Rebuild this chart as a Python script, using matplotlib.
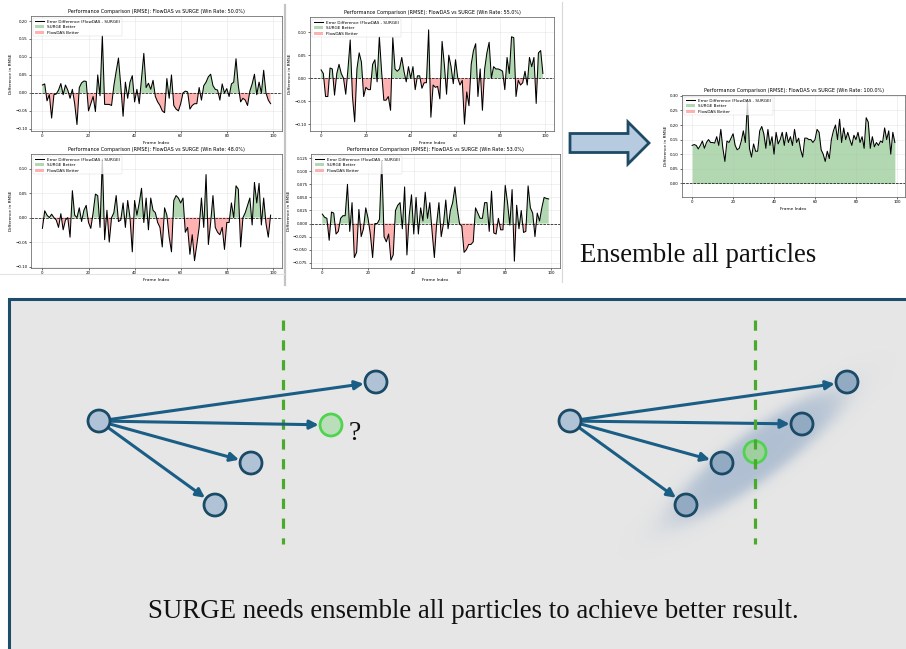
import numpy as np
import matplotlib
matplotlib.use("Agg")
import matplotlib.pyplot as plt
from matplotlib.patches import Circle, Rectangle, FancyArrow, FancyArrowPatch

# ---------------- data ----------------
frames = np.arange(100)

diff_p1 = [0.022, 0.025, -0.022, -0.005, -0.07, -0.005, -0.003, 0.008, 0.026, -0.005,
           0.022, 0.008, -0.015, 0.01, -0.03, -0.088, 0.015, 0.028, 0.033, 0.032,
           -0.05, -0.03, -0.01, -0.052, 0.05, -0.008, 0.16, -0.032, -0.032, -0.032,
           -0.035, 0.02, 0.06, 0.097, 0.02, -0.065, 0.03, -0.015, 0.03, 0.048,
           -0.025, 0.01, -0.03, 0.04, 0.11, 0.015, 0.027, 0.01, 0.035, -0.01,
           -0.025, -0.035, -0.05, -0.055, 0.04, -0.015, 0.05, -0.035, -0.045, -0.05,
           -0.03, 0.0, 0.005, 0.003, -0.045, -0.035, -0.03, -0.03, 0.015, -0.02,
           0.02, 0.03, 0.045, 0.052, 0.02, 0.01, 0.008, -0.02, 0.025, 0.0,
           0.012, -0.01, 0.025, 0.03, 0.095, 0.02, -0.025, -0.015, -0.02, -0.035,
           0.005, 0.025, 0.052, -0.005, 0.03, 0.0, 0.063, 0.0, -0.02, -0.03]

diff_p2 = [0.018, 0.01, -0.04, -0.04, 0.022, 0.02, -0.037, 0.01, 0.03, 0.01,
           0.0, -0.035, 0.02, 0.083, -0.04, -0.095, 0.02, 0.055, 0.035, -0.04,
           -0.02, -0.025, -0.025, 0.03, 0.04, -0.008, 0.09, 0.015, -0.048, -0.048,
           -0.04, -0.07, 0.088, 0.02, 0.015, 0.02, 0.045, 0.015, -0.008, 0.025,
           0.0, 0.025, -0.025, 0.005, 0.005, -0.022, -0.01, -0.01, 0.105, -0.085,
           -0.015, -0.02, -0.018, -0.045, 0.08, 0.03, -0.035, 0.05, 0.025, -0.012,
           0.04, 0.0, -0.015, -0.005, -0.1, -0.03, -0.06, 0.03, 0.06, 0.075,
           -0.04, 0.02, -0.07, 0.02, 0.055, 0.078, 0.0, 0.025, 0.02, 0.02,
           0.018, 0.015, -0.025, 0.045, 0.01, 0.09, 0.088, -0.04, -0.005, -0.015,
           -0.01, 0.015, -0.015, 0.045, 0.025, 0.045, -0.055, 0.055, 0.06, 0.01]

diff_p3 = [-0.022, 0.014, 0.005, 0.0, 0.007, 0.0, -0.005, -0.02, 0.008, -0.025,
           -0.005, 0.0, -0.04, 0.055, 0.005, 0.0, 0.02, -0.008, 0.015, 0.025,
           -0.01, -0.022, 0.01, 0.048, 0.045, -0.02, 0.12, -0.045, 0.015, -0.05,
           0.0, 0.01, 0.045, -0.008, -0.005, 0.03, -0.02, 0.035, 0.0, -0.07,
           0.035, 0.005, 0.03, 0.06, -0.01, 0.04, -0.025, 0.04, 0.015, 0.01,
           -0.01, -0.02, -0.06, 0.02, 0.005, -0.04, -0.07, 0.035, 0.045, 0.04,
           0.03, 0.04, -0.03, -0.02, -0.075, -0.035, -0.088, -0.055, -0.02, 0.04,
           -0.02, 0.088, -0.055, -0.01, 0.045, -0.02, -0.03, -0.035, -0.02, -0.065,
           -0.01, -0.01, 0.03, 0.0, 0.065, 0.058, -0.06, 0.0, 0.01, 0.025,
           0.04, -0.015, 0.072, 0.03, 0.07, -0.015, 0.04, -0.012, -0.04, 0.005]

diff_p4 = [0.018, 0.012, 0.01, -0.032, 0.022, 0.02, -0.02, -0.015, 0.01, 0.015,
           0.015, 0.075, -0.015, 0.04, -0.065, -0.055, 0.027, -0.025, -0.01, 0.03,
           0.01, -0.02, -0.065, 0.0, 0.0, 0.008, 0.12, -0.025, -0.035, -0.02,
           -0.07, -0.06, 0.025, 0.035, 0.04, -0.01, 0.07, -0.06, 0.015, 0.055,
           -0.02, 0.05, -0.02, 0.03, 0.005, 0.06, 0.01, 0.04, -0.015, -0.065,
           0.0, 0.04, -0.025, 0.0, 0.045, -0.01, 0.025, 0.04, 0.07, 0.03,
           0.0, -0.005, -0.055, -0.05, -0.04, -0.04, -0.035, 0.03, 0.02, 0.01,
           0.01, 0.04, 0.04, -0.015, 0.062, -0.018, -0.02, 0.01, -0.012, -0.012,
           0.073, 0.04, -0.003, 0.065, -0.072, 0.035, -0.01, 0.025, -0.017, -0.015,
           0.072, 0.03, 0.02, -0.025, 0.02, 0.005, 0.03, 0.05, 0.048, 0.047]

diff_ens = [0.13, 0.133, 0.13, 0.118, 0.13, 0.145, 0.12, 0.14, 0.15, 0.14,
            0.14, 0.138, 0.16, 0.13, 0.185, 0.12, 0.075, 0.145, 0.14, 0.155,
            0.17, 0.13, 0.115, 0.12, 0.145, 0.18, 0.14, 0.28, 0.12, 0.09,
            0.135, 0.11, 0.11, 0.18, 0.195, 0.17, 0.12, 0.185, 0.13, 0.16,
            0.1, 0.175, 0.135, 0.15, 0.175, 0.13, 0.175, 0.14, 0.16, 0.13,
            0.185, 0.14, 0.155, 0.115, 0.09, 0.155, 0.155, 0.15, 0.15, 0.14,
            0.15, 0.185, 0.175, 0.115, 0.1, 0.075, 0.11, 0.085, 0.15, 0.18,
            0.2, 0.15, 0.22, 0.14, 0.19, 0.15, 0.175, 0.15, 0.13, 0.165,
            0.15, 0.175, 0.14, 0.16, 0.12, 0.225, 0.21, 0.12, 0.16, 0.125,
            0.14, 0.13, 0.145, 0.14, 0.19, 0.15, 0.18, 0.1, 0.175, 0.14]

win_rates = ["50.0%", "55.0%", "48.0%", "53.0%", "100.0%"]
x_ticks = [0, 20, 40, 60, 80, 100]
y_ticks_p1 = [-0.10, -0.05, 0.00, 0.05, 0.10, 0.15, 0.20]
y_ticks_p2 = [-0.10, -0.05, 0.00, 0.05, 0.10]
y_ticks_p3 = [-0.10, -0.05, 0.00, 0.05, 0.10]
y_ticks_p4 = [-0.075, -0.050, -0.025, 0.000, 0.025, 0.050, 0.075, 0.100, 0.125]
y_ticks_ens = [0.00, 0.05, 0.10, 0.15, 0.20, 0.25, 0.30]

# diagram (pixel layout)
left_src = (99, 421)
left_targets = [(376, 382), (251, 463), (215, 505)]
left_green = (331, 425)
right_src = (570, 421)
right_targets = [(847, 382), (802, 424), (722, 463), (686, 505)]
right_green = (755, 452)

# ---------------- figure ----------------
W, H = 906, 649
fig = plt.figure(figsize=(W / 100, H / 100), dpi=100)
fig.patch.set_facecolor("white")


def ax_rect(l, r, t, b):
    return [l / W, 1 - b / H, (r - l) / W, (b - t) / H]


def small_panel(rect, y, yticks, ylim, rate, fmt):
    ax = fig.add_axes(rect)
    y = np.asarray(y)
    ax.plot(frames, y, color="black", lw=0.75, label="Error Difference (FlowDAS - SURGE)", zorder=3)
    ax.fill_between(frames, y, 0, where=y >= 0, interpolate=True, color="green", alpha=0.3,
                    label="SURGE Better", lw=0)
    ax.fill_between(frames, y, 0, where=y < 0, interpolate=True, color="red", alpha=0.3,
                    label="FlowDAS Better", lw=0)
    ax.axhline(0, color="black", ls="--", lw=0.5, zorder=2)
    ax.set_xlim(-4.95, 103.95)
    ax.set_ylim(*ylim)
    ax.set_xticks(x_ticks)
    ax.set_yticks(yticks)
    ax.set_yticklabels([fmt.format(v).replace("-", "\u2212") for v in yticks])
    ax.grid(True, alpha=0.3, lw=0.4)
    ax.tick_params(labelsize=2.9, length=1.5, width=0.4, pad=1)
    for s in ax.spines.values():
        s.set_linewidth(0.5)
        s.set_color("#555555")
    ax.set_title(f"Performance Comparison (RMSE): FlowDAS vs SURGE (Win Rate: {rate})",
                 fontsize=3.5, pad=2)
    ax.set_xlabel("Frame Index", fontsize=3.1, labelpad=1.5)
    ax.set_ylabel("Difference in RMSE", fontsize=3.1, labelpad=1.5)
    ax.legend(loc="upper left", fontsize=3.0, frameon=True, framealpha=0.8, borderpad=0.4,
              handlelength=2.2, labelspacing=0.35, edgecolor="#cccccc").get_frame().set_linewidth(0.3)
    return ax


small_panel(ax_rect(31, 282, 16, 131), diff_p1, y_ticks_p1, (-0.106, 0.214), win_rates[0], "{:.2f}")
small_panel(ax_rect(310, 554, 17, 131), diff_p2, y_ticks_p2, (-0.115, 0.133), win_rates[1], "{:.2f}")
small_panel(ax_rect(31, 282, 154, 268), diff_p3, y_ticks_p3, (-0.103, 0.130), win_rates[2], "{:.2f}")
small_panel(ax_rect(311, 560, 154, 268), diff_p4, y_ticks_p4, (-0.085, 0.133), win_rates[3], "{:.3f}")
small_panel(ax_rect(682, 905, 95, 197), diff_ens, y_ticks_ens, (-0.047, 0.303), win_rates[4], "{:.2f}")

# ---------------- overlay ----------------
top = fig.add_axes([0, 0, 1, 1], zorder=5)
top.axis("off")
top.patch.set_alpha(0)

# separators of the screenshot grid
top.plot([284.5, 284.5], [5, 285], color="#c4c4c4", lw=1.6)
top.plot([562, 562], [2, 282], color="#d8d8d8", lw=0.8)
top.plot([0, 284], [274, 274], color="#e4e4e4", lw=0.8)

# block arrow
top.add_patch(FancyArrow(570, 143, 79, 0, width=19, head_width=42, head_length=21,
                         length_includes_head=True, fc="#b7cbe0", ec="#1d4a66", lw=2.0))
top.text(580, 256, "Ensemble all particles", fontsize=19.4, family="Liberation Serif",
         ha="left", va="center", color="#111111")

# bottom panel
top.add_patch(Rectangle((9, 299), 1000, 400, fc="#e6e6e6", ec="#1d4d6b", lw=2.2, zorder=1))

# blurred ensemble ellipse
gx, gy = np.meshgrid(np.arange(580, 940), np.arange(320, 590))
ang = np.deg2rad(36.4)
cx, cy = 757, 455
dx, dy = gx - cx, gy - cy
u = dx * np.cos(ang) - dy * np.sin(ang)
v = dx * np.sin(ang) + dy * np.cos(ang)
r = np.sqrt((u / 140.0) ** 2 + (v / 33.0) ** 2)
alpha = 0.55 * 0.5 * (1 - np.tanh((r - 0.72) / 0.2))
rgba = np.zeros(gx.shape + (4,))
rgba[..., 0], rgba[..., 1], rgba[..., 2] = 0.52, 0.63, 0.76
rgba[..., 3] = alpha
top.imshow(rgba, extent=(580, 940, 590, 320), origin="upper", zorder=2, interpolation="bilinear")
top.set_xlim(0, W)
top.set_ylim(H, 0)
top.set_aspect("auto")

dash_col = "#4aaa2e"
arrow_col = "#1b5e85"
node_edge = "#1b4a66"
R = 11


def node(xy, fc="#b0c3d6", ec=node_edge):
    top.add_patch(Circle(xy, R, fc=fc, ec=ec, lw=2.0, zorder=6))


def arrow(a, b):
    top.add_patch(FancyArrowPatch(a, b, arrowstyle="-|>", mutation_scale=13, lw=2.2,
                                  color=arrow_col, shrinkA=R * 0.72, shrinkB=R * 0.72 + 1,
                                  zorder=5))


# left diagram
top.plot([283, 283], [320, 544], color=dash_col, lw=2.3, ls=(0, (3.2, 3.0)), zorder=4)
for t in left_targets[:1] + [left_green] + left_targets[1:]:
    arrow(left_src, t)
node(left_src)
for t in left_targets:
    node(t)
node(left_green, fc="#b9deb9", ec="#4fd44f")
top.text(349, 433, "?", fontsize=20, family="Liberation Serif", ha="left", va="center",
         color="#111111", zorder=6)

# right diagram
for t in right_targets:
    arrow(right_src, t)
node(right_src)
for t in right_targets:
    node(t, fc="#93aac3")
node(right_green, fc="#9fcf9f", ec="#4fd44f")
top.plot([755, 755], [320, 544], color=dash_col, lw=2.3, ls=(0, (3.2, 3.0)), zorder=7)

top.text(473, 611, "SURGE needs ensemble all particles to achieve better result.",
         fontsize=19.4, family="Liberation Serif", ha="center", va="center", color="#111111",
         zorder=6)

fig.savefig("out.png", dpi=100)
